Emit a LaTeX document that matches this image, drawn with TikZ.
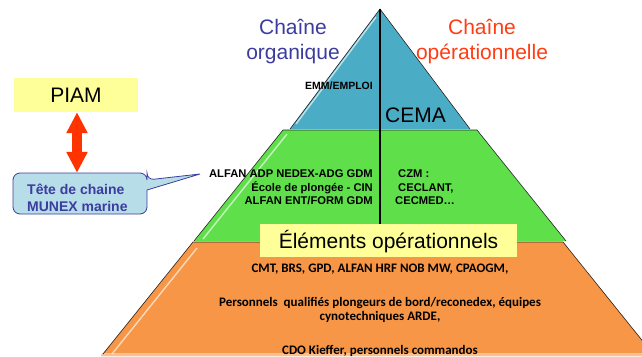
\documentclass[tikz,border=0pt]{standalone}
\usepackage{fontspec}
\setmainfont{Liberation Sans}
\newfontfamily\carlito{Carlito}
\usetikzlibrary{arrows.meta}
\definecolor{pblue}{HTML}{4BACC6}
\definecolor{pgreen}{HTML}{5FE04B}
\definecolor{porange}{HTML}{F79646}
\definecolor{pyellow}{HTML}{FFFF99}
\definecolor{orgblue}{HTML}{3C3CA0}
\definecolor{opred}{HTML}{FF3C14}
\definecolor{calfill}{HTML}{B7DDE8}
\definecolor{arrred}{HTML}{FF3300}
\begin{document}
\begin{tikzpicture}[x=1pt,y=-1pt,
  layer/.style={draw=black!85, line width=0.6pt},
  hilite/.style={draw=white, opacity=0.65, line width=1.4pt},
  ybox/.style={fill=pyellow, inner sep=0pt},
  chain/.style={font=\fontsize{21}{25}\selectfont, align=center, inner sep=0pt},
  big/.style={font=\fontsize{21}{25}\selectfont, inner sep=0pt},
  gtext/.style={font=\bfseries\fontsize{11.2}{13.5}\selectfont, inner sep=0pt},
  otext/.style={font=\carlito\bfseries\fontsize{13}{14}\selectfont, inner sep=0pt, align=center},
  ctext/.style={font=\bfseries\fontsize{14}{17}\selectfont, text=orgblue, align=left, inner sep=0pt},
  dblarrow/.style={draw=arrred, line width=10pt,
    {Triangle[width=20pt,length=21pt]}-{Triangle[width=20pt,length=21pt]}}
]
\useasboundingbox (0,0) rectangle (642,356);
\clip (0,0) rectangle (642,356);

% pyramid layers
\coordinate (apex) at (380,9);
\path[fill=porange] (193,242) -- (563,242) -- (655,356) -- (101,356) -- cycle;
\path[fill=porange!60!white] (102,353) -- (655,353) -- (655,356) -- (101,356) -- cycle;
\draw[layer] (103,354) -- (193,242) -- (563,242) -- (653,354);
\draw[hilite] (197,248) -- (112,354);
\path[fill=pgreen] (283,130) -- (477,130) -- (566,241) -- (194,241) -- cycle;
\draw[layer] (194,241) -- (283,130) -- (477,130) -- (566,241);
\draw[hilite] (287,134) -- (203,239);
\path[fill=pblue] (apex) -- (470,129) -- (290,129) -- cycle;
\draw[layer] (290,129) -- (apex) -- (470,129);
\draw[hilite] (376,17) -- (296,124);

% titles
\node[chain, text=orgblue] (org) at (293,42) {Chaîne\\organique};
\node[chain, text=opred] (ope) at (482,42) {Chaîne\\opérationnelle};

% top layer texts
\node[font=\bfseries\fontsize{10.5}{12}\selectfont, inner sep=0pt, anchor=base east] (emm) at (373,89) {EMM/EMPLOI};
\node[big, anchor=base west] (cema) at (385,122) {CEMA};

% green texts
\node[gtext, align=right, anchor=base east] (org2) at (373,204.5)
  {ALFAN ADP NEDEX-ADG GDM\\École de plongée - CIN\\ALFAN ENT/FORM GDM};
\node[gtext, anchor=base west] (czm) at (395,204.5)
  {\begin{tabular}[b]{@{}l@{}}\hspace*{3pt}CZM :\\\hspace*{3pt}CECLANT,\\CECMED…\end{tabular}};

% elements box
\node[ybox, minimum width=257pt, minimum height=33pt] (elem) at (388.5,240.5) {};
\node[big, anchor=base] (elemt) at (elem.center |- 0,248) {Éléments opérationnels};

% vertical divider
\draw[line width=1.8pt] (apex) -- (apex |- elem.north);

% orange texts
\node[otext, anchor=base] (o1) at (380,272) {CMT, BRS, GPD, ALFAN HRF NOB MW, CPAOGM,};
\node[otext, anchor=base] (o2) at (380,320) {Personnels\ \ qualifiés plongeurs de bord/reconedex, équipes\\cynotechniques ARDE,};
\node[otext, anchor=base] (o3) at (380,354) {CDO Kieffer, personnels commandos};

% PIAM
\node[ybox, minimum width=124pt, minimum height=34pt, big] (piam) at (76,95) {PIAM};

% callout
\path[fill=calfill, draw=orgblue, line width=0.8pt, rounded corners=7pt]
  (147,200) -- (147,214) -- (13,214) -- (13,173) -- (147,173) -- (147,180)
  [sharp corners] -- (200,174) -- (147,190) -- cycle;
\node[inner sep=0pt, minimum width=134pt, minimum height=41pt] (callout) at (80,193.5) {};
\node[ctext, anchor=base west] (ctxt) at (27,211) {Tête de chaine\\MUNEX marine};

% double arrow between PIAM and callout
\draw[dblarrow] ([xshift=1pt]piam.south) -- ([xshift=1pt]piam.south |- callout.north);
\end{tikzpicture}
\end{document}
